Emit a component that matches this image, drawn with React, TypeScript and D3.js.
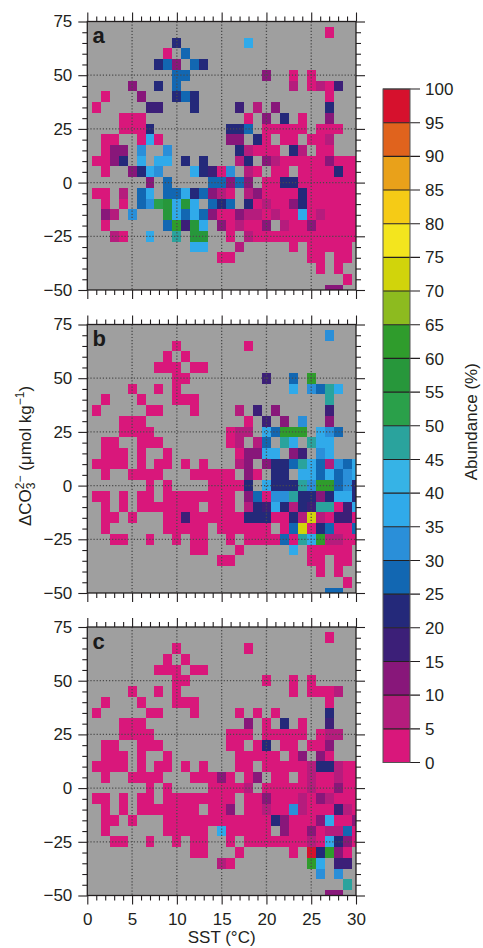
import { useEffect, useRef } from "react";
import * as d3 from "d3";

// axis ticks
const SST_TICKS = [0, 5, 10, 15, 20, 25, 30];
const CO3_TICKS = [-50, -25, 0, 25, 50, 75];
const SST_GRID = [5, 10, 15, 20, 25];
const CO3_GRID = [-25, 0, 25, 50];

// cell centres of each grid row, top to bottom (µmol/kg)
const CO3_ROWS = [75, 70, 65, 60, 55, 50, 45, 40, 35, 30, 25, 20, 15, 10, 5, 0, -5, -10, -15, -20, -25, -30, -35, -40, -45, -50];

// abundance bins (%) and their colours
const BIN_LABELS = [0, 5, 10, 15, 20, 25, 30, 35, 40, 45, 50, 55, 60, 65, 70, 75, 80, 85, 90, 95, 100];
const BIN_COLORS = [
  "#d9177b", "#b51c7d", "#88177a", "#3c1f78", "#24297a",
  "#1267b2", "#2a8fd9", "#30aaea", "#36b3e6", "#2aa39d",
  "#2aa04a", "#27973b", "#2f9c2c", "#8dbb1f", "#d1d40b",
  "#f3e51e", "#f5cb16", "#e9a11a", "#e0631d", "#d6112d",
];
// one char per 1 °C column (SST 0..30); "." = no data, otherwise bin index
const CODES = "0123456789abcdefghij";

const PANEL_A = [
  "..... ..... ..... ..... ..... ..... .",
  "..... ..... ..... ..... ..... ..0.. .",
  "..... ..... 4.... ...7. ..... ..... .",
  "..... ....0 .5... ..... ..... ..... .",
  "..... ...45 2.54. ..... ..... ..... .",
  "..... ..... 55... ..... 2..0. 0.... .",
  "..... 2..4. 5.... ..... ...1. 0103. .",
  "..0.. .2... 454.. ..... ..... ..0.. .",
  ".0... ..33. ..4.. ..3.1 .2... ..4.. .",
  "....0 00... ..... ...0. 2.4.0 ..2.. .",
  "....0 004.. ..... .445. 00000 .000. .",
  "..00. .070. ..... .22.4 0.00. 001.. .",
  "..022 .6..6 ..... ..410 00.41 .00.. .",
  ".0024 .7.77 .4.4. ..14. 21000 00200 0",
  "..0.. 2476. ..743 06.10 .00.0 00040 0",
  "..... ..2.5 ....5 5252. 00440 00000 0",
  ".00.1 .57.5 57452 10.12 00004 00000 0",
  "..0.0 .56ab 7b7.5 45.40 10024 00000 0",
  "..21. 6...b 75752 00211 01007 01000 0",
  "..0.. ....5 c3b7. 20100 2.100 20000 0",
  "...10 ..7.. 9.bb. .0.10 00000 00000 0",
  "..... ..... ..77. ..1.. ...0. 00000 .",
  "..... ..... ..... 00... ..... 00.00 .",
  "..... ..... ..... ..... ..... .0.0. .",
  "..... ..... ..... ..... ..... ....0 .",
  "..... ..... ..... ..... ..... ..22. .",
];

const PANEL_B = [
  "..... ..... ..... ..... ..... ..... .",
  "..... ..... ..... ..... ..... ..6.. .",
  "..... ..... 0.... ...0. ..... ..... .",
  "..... ....0 .0... ..... ..... ..... .",
  "..... ...00 0.00. ..... ..... ..... .",
  "..... ..... 00... ..... 3..5. c.... .",
  "..... 0..0. 0.... ..... ...7. 6597. .",
  "..0.. .0... 000.. ..... ..... ..9.. .",
  ".0... ..00. ..0.. ..1.3 .2... ..3.. .",
  "....0 00... ..... ...0. 3.2.6 ..2.. .",
  "....0 000.. ..... .011. 75ccc .765. .",
  "..00. .000. ..... .01.1 5.97. 977.. .",
  "..000 .0..0 ..... ..022 77.23 .67.. .",
  ".0000 .0.00 .0.0. ..12. 24459 75165 7",
  "..0.. 0000. ..000 00.20 .44.7 75756 7",
  "..... ..0.0 ....0 0004. 74449 6cc56 4",
  ".00.0 .00.0 00000 00.25 06694 42477 4",
  "..0.0 .0000 000.0 00.14 37414 39903 7",
  "..00. 0...0 03000 00044 40041 e1033 0",
  "..0.. ....0 0000. 00000 0.05e 04500 5",
  "...00 ..0.. 0.00. .0.00 00509 7c110 0",
  "..... ..... ..00. ..0.. ...7. 00000 .",
  "..... ..... ..... 00... ..... 00.00 .",
  "..... ..... ..... ..... ..... .0.0. .",
  "..... ..... ..... ..... ..... ....0 .",
  "..... ..... ..... ..... ..... ..55. .",
];

const PANEL_C = [
  "..... ..... ..... ..... ..... ..... .",
  "..... ..... ..... ..... ..... ..0.. .",
  "..... ..... 0.... ...0. ..... ..... .",
  "..... ....0 .0... ..... ..... ..... .",
  "..... ...00 0.00. ..... ..... ..... .",
  "..... ..... 00... ..... 0..0. 0.... .",
  "..... 0..0. 0.... ..... ...0. 0001. .",
  "..0.. .0... 000.. ..... ..... ..0.. .",
  ".0... ..00. ..0.. ..0.0 .0... ..4.. .",
  "....0 00... ..... ...2. 0.4.0 ..3.. .",
  "....0 000.. ..... .000. 00000 .011. .",
  "..00. .000. ..... .00.0 4.00. 002.. .",
  "..000 .0..0 ..... ..000 00.02 .20.. .",
  ".0000 .0.00 .0.0. ..00. 00000 14410 0",
  "..0.. 0000. ..000 20.02 .00.0 10010 0",
  "..... ..0.0 ....0 0001. 00000 10020 0",
  ".00.0 .00.0 00000 00.00 20001 02100 0",
  "..0.0 .0000 000.0 02.00 10061 00031 0",
  "..00. 0...0 00000 00000 04200 02700 2",
  "..0.. ....0 0000. 70000 0.200 20115 0",
  "...00 ..0.. 0.00. .0.00 00000 10742 0",
  "..... ..... ..00. ..0.. ...0. j4c20 .",
  "..... ..... ..... 10... ..... c7.33 .",
  "..... ..... ..... ..... ..... .6.6. .",
  "..... ..... ..... ..... ..... ....9 .",
  "..... ..... ..... ..... ..... ..22. .",
];

const PANELS = [
  { key: "a", rows: PANEL_A },
  { key: "b", rows: PANEL_B },
  { key: "c", rows: PANEL_C },
];

const FONT = "'Liberation Sans', Arial, Helvetica, sans-serif";
const INK = "#231f20";
const fmt = (d: number) => (d < 0 ? "\u2212" + Math.abs(d) : String(d));

export default function App() {
  const svgRef = useRef<SVGSVGElement>(null);

  useEffect(() => {
    document.body.style.margin = "0";
    const svg = d3.select(svgRef.current);
    svg.selectAll("*").remove();

    const x = d3.scaleLinear().domain([0, 30]).range([87.3, 356]);
    const tops = [21.5, 324.5, 627];
    const panelH = 268.5;
    const sstMinor = d3.range(0, 31).filter((v) => v % 5 !== 0);
    const co3Minor = d3.range(-50, 76, 5).filter((v) => v % 25 !== 0);
    const defs = svg.append("defs");

    PANELS.forEach((p, pi) => {
      const top = tops[pi];
      const y = d3.scaleLinear().domain([-50, 75]).range([top + panelH, top]);
      const [x0, x1] = x.range();
      const g = svg.append("g");

      defs.append("clipPath").attr("id", `clip-${p.key}`)
        .append("rect")
        .attr("x", x0).attr("y", top)
        .attr("width", x1 - x0).attr("height", panelH);

      // grey background = no data
      g.append("rect")
        .attr("x", x0).attr("y", top)
        .attr("width", x1 - x0).attr("height", panelH)
        .attr("fill", "#9f9f9f");

      // cells: 1 °C by 5 µmol/kg, centred on the grid values
      const cells: { sst: number; co3: number; bin: number }[] = [];
      p.rows.forEach((row, ri) => {
        const s = row.replace(/ /g, "");
        for (let c = 0; c < s.length; c++) {
          if (s[c] !== ".") cells.push({ sst: c, co3: CO3_ROWS[ri], bin: CODES.indexOf(s[c]) });
        }
      });
      g.append("g")
        .attr("clip-path", `url(#clip-${p.key})`)
        .selectAll("rect")
        .data(cells)
        .join("rect")
        .attr("x", (d) => x(d.sst - 0.5))
        .attr("width", (d) => x(d.sst + 0.5) - x(d.sst - 0.5))
        .attr("y", (d) => y(d.co3 + 2.5))
        .attr("height", (d) => y(d.co3 - 2.5) - y(d.co3 + 2.5))
        .attr("fill", (d) => BIN_COLORS[d.bin])
        .attr("shape-rendering", "crispEdges");

      // dotted grid
      const grid = g.append("g")
        .attr("stroke", "#4a4a4a").attr("stroke-width", 1.3)
        .attr("stroke-dasharray", "1.2,1.9");
      grid.selectAll("line.gx").data(SST_GRID).join("line")
        .attr("x1", (d) => x(d)).attr("x2", (d) => x(d))
        .attr("y1", top).attr("y2", top + panelH);
      grid.selectAll("line.gy").data(CO3_GRID).join("line")
        .attr("class", "gy")
        .attr("x1", x0).attr("x2", x1)
        .attr("y1", (d) => y(d)).attr("y2", (d) => y(d));

      // axes on all four sides, ticks outward
      const axes = [
        { gen: d3.axisLeft(y), tx: `translate(${x0},0)`, major: CO3_TICKS, minor: co3Minor, labels: true, pad: 6 },
        { gen: d3.axisRight(y), tx: `translate(${x1},0)`, major: CO3_TICKS, minor: co3Minor, labels: false, pad: 6 },
        { gen: d3.axisTop(x), tx: `translate(0,${top})`, major: SST_TICKS, minor: sstMinor, labels: false, pad: 6 },
        { gen: d3.axisBottom(x), tx: `translate(0,${top + panelH})`, major: SST_TICKS, minor: sstMinor, labels: pi === 2, pad: 8.5 },
      ];
      axes.forEach((a) => {
        const major = (a.gen as any).tickValues(a.major).tickSize(9).tickSizeOuter(0)
          .tickPadding(a.pad)
          .tickFormat(a.labels ? fmt : () => "");
        const gm = g.append("g").attr("transform", a.tx).call(major);
        gm.select(".domain").remove();
        gm.selectAll("line").attr("stroke", INK).attr("stroke-width", 1.1);
        gm.selectAll("text").attr("font-family", FONT).attr("font-size", 17).attr("fill", INK);
        const minorGen = (a.gen as any).tickValues(a.minor).tickSize(5).tickFormat(() => "");
        const gn = g.append("g").attr("transform", a.tx).call(minorGen);
        gn.select(".domain").remove();
        gn.selectAll("line").attr("stroke", INK).attr("stroke-width", 1.1);
      });

      // frame
      g.append("rect")
        .attr("x", x0).attr("y", top)
        .attr("width", x1 - x0).attr("height", panelH)
        .attr("fill", "none").attr("stroke", INK).attr("stroke-width", 1.3);

      // panel letter
      g.append("text")
        .attr("x", 92.5).attr("y", top + 21.8)
        .attr("font-family", FONT).attr("font-size", 22).attr("font-weight", "bold")
        .attr("fill", "#1a1a1a")
        .text(p.key);
    });

    // x axis title
    svg.append("text")
      .attr("x", x(15)).attr("y", 943)
      .attr("text-anchor", "middle")
      .attr("font-family", FONT).attr("font-size", 17).attr("fill", INK)
      .text("SST (\u00B0C)");

    // y axis title with stacked sub/superscript
    const yt = svg.append("text")
      .attr("transform", "translate(31,456) rotate(-90)")
      .attr("text-anchor", "middle")
      .attr("font-family", FONT).attr("font-size", 17).attr("fill", INK);
    yt.append("tspan").text("\u0394CO");
    yt.append("tspan").attr("font-size", 12).attr("dy", 4).text("3");
    yt.append("tspan").attr("font-size", 12).attr("dx", -6.7).attr("dy", -11).text("2\u2212");
    yt.append("tspan").attr("dy", 7).text(" (\u03BCmol kg");
    yt.append("tspan").attr("font-size", 12).attr("dy", -7).text("\u22121");
    yt.append("tspan").attr("dy", 7).text(")");

    // colour bar
    const cy = d3.scaleLinear().domain([0, 100]).range([762.5, 89]);
    const cb = svg.append("g");
    const barX0 = 383, barX1 = 410;
    cb.selectAll("rect.bin")
      .data(BIN_COLORS)
      .join("rect")
      .attr("class", "bin")
      .attr("x", barX0).attr("width", barX1 - barX0)
      .attr("y", (_, i) => cy(BIN_LABELS[i + 1]))
      .attr("height", (_, i) => cy(BIN_LABELS[i]) - cy(BIN_LABELS[i + 1]))
      .attr("fill", (d) => d);
    cb.selectAll("line.tk")
      .data(BIN_LABELS)
      .join("line")
      .attr("class", "tk")
      .attr("x1", barX0).attr("x2", 420)
      .attr("y1", (d) => cy(d)).attr("y2", (d) => cy(d))
      .attr("stroke", INK).attr("stroke-width", 1.1);
    cb.append("rect")
      .attr("x", barX0).attr("y", cy(100))
      .attr("width", barX1 - barX0).attr("height", cy(0) - cy(100))
      .attr("fill", "none").attr("stroke", "#555").attr("stroke-width", 1);
    cb.selectAll("text.lb")
      .data(BIN_LABELS)
      .join("text")
      .attr("class", "lb")
      .attr("x", 425).attr("y", (d) => cy(d))
      .attr("dy", "0.36em")
      .attr("font-family", FONT).attr("font-size", 17).attr("fill", INK)
      .text((d) => String(d));
    svg.append("text")
      .attr("transform", `translate(477,${(cy(0) + cy(100)) / 2 - 4}) rotate(-90)`)
      .attr("text-anchor", "middle")
      .attr("font-family", FONT).attr("font-size", 17).attr("fill", INK)
      .text("Abundance (%)");
  }, []);

  return <svg ref={svgRef} width={483} height={948} style={{ display: "block" }} />;
}
